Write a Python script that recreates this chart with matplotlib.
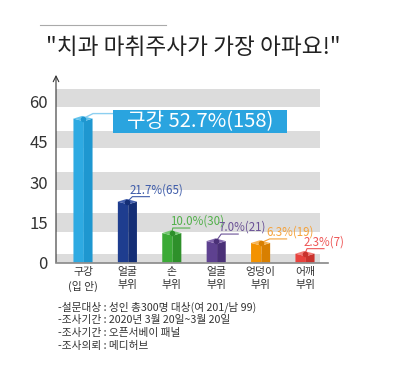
import matplotlib
matplotlib.use("Agg")
import matplotlib.pyplot as plt
from matplotlib.patches import Polygon, Rectangle
import numpy as np

plt.rcParams['font.family'] = ['Noto Sans CJK KR', 'DejaVu Sans']

# ---- data ----
categories = ["구강\n(입 안)", "얼굴\n부위", "손\n부위", "얼굴\n부위", "엉덩이\n부위", "어깨\n부위"]
percents = [52.7, 21.7, 10.0, 7.0, 6.3, 2.3]
counts = [158, 65, 30, 21, 19, 7]
yticks = [0, 15, 30, 45, 60]
title = '"치과 마취주사가 가장 아파요!"'
notes = ["-설문대상 : 성인 총300명 대상(여 201/남 99)",
         "-조사기간 : 2020년 3월 20일~3월 20일",
         "-조사기간 : 오픈서베이 패널",
         "-조사의뢰 : 메디허브"]

# ---- styles ----
face_light = ["#2EAAE2", "#1E3D8F", "#3BAA36", "#5E4190", "#F39200", "#E8423D"]
face_dark = ["#1E97D0", "#142E75", "#2E902A", "#4A3077", "#D87F00", "#C9312C"]
face_top = ["#63C3EC", "#4561AE", "#72C66F", "#8468AE", "#F8B452", "#F27B76"]
label_col = ["#2AA4DF", "#3D5BA9", "#52B04A", "#6B5296", "#F5A23A", "#EE5656"]
label_dx_px = [0, 1, -3, 1, 5, -2]
label_dy_px = [0, 0, 0, 2, -1, 0]
bands = [(58.1, 64.6), (42.6, 49.2), (27.0, 33.6), (11.4, 18.3), (0, 3.0)]

W, H = 400, 371
fig = plt.figure(figsize=(W / 100, H / 100), dpi=100)
ax_l, ax_r, ax_b, ax_t = 56, 328, 262.5, 88.3
ax = fig.add_axes([ax_l / W, 1 - ax_b / H, (ax_r - ax_l) / W, (ax_b - ax_t) / H])
xmin, xmax = -0.608, 5.518
ymin, ymax = 0, 65
ax.set_xlim(xmin, xmax)
ax.set_ylim(ymin, ymax)
dxpp = (xmax - xmin) / (ax_r - ax_l)   # data per pixel x
dypp = (ymax - ymin) / (ax_b - ax_t)   # data per pixel y

for s in ax.spines.values():
    s.set_visible(False)

# bands
band_right = xmin + (320 - ax_l) * dxpp
for lo, hi in bands:
    ax.add_patch(Rectangle((xmin, lo), band_right - xmin, hi - lo, color="#DCDCDC", lw=0, zorder=0))

# axes lines
ax.plot([xmin, xmax], [0, 0], color="#888888", lw=1.2, zorder=5, clip_on=False)
ax.annotate('', xy=(xmin, 70), xytext=(xmin, 0),
            arrowprops=dict(arrowstyle='->', color='#333333', lw=0.8, shrinkA=0, shrinkB=0),
            annotation_clip=False)

# bars
bw = 0.43
dh = 1.0
x = np.arange(len(percents))
for i, (xi, v) in enumerate(zip(x, percents)):
    x0, x1, c = xi - bw / 2, xi + bw / 2, xi + 0.02
    ax.add_patch(Polygon([(x0, 0), (c, 0), (c, v), (x0, v + dh)], closed=True,
                         fc=face_light[i], ec='none', zorder=3))
    ax.add_patch(Polygon([(c, 0), (x1, 0), (x1, v + dh), (c, v)], closed=True,
                         fc=face_dark[i], ec='none', zorder=3))
    ax.add_patch(Polygon([(x0, v + dh), (c, v), (x1, v + dh), (x0 + x1 - c, v + 2 * dh)], closed=True,
                         fc=face_top[i], ec='none', zorder=3))
    ax.plot([xi], [v + dh], 'o', ms=3, color=face_dark[i], zorder=6)

# label for first bar (box)
v0 = percents[0] + dh
bx0 = x[0] + 30 * dxpp
bw_box = 174 * dxpp
bh_box = 23.3 * dypp
by0 = v0 - 3 * dypp - bh_box / 2
ax.plot([x[0], x[0] + 10 * dxpp, bx0], [v0, v0 + 5 * dypp, v0 + 5 * dypp],
        color="#8CCFF0", lw=1.0, zorder=4, clip_on=False)
ax.add_patch(Rectangle((bx0, by0), bw_box, bh_box, fc=label_col[0], ec='none', zorder=4))
ax.text(bx0 + bw_box / 2, by0 + bh_box / 2, f"구강 {percents[0]}%({counts[0]})",
        color="white", fontsize=14.5, ha='center', va='center', zorder=5)

# other labels
for i in range(1, len(percents)):
    v = percents[i] + dh
    xi = x[i]
    ddx = label_dx_px[i] * dxpp
    ddy = label_dy_px[i] * dypp
    cx, cy = xi + (4 + label_dx_px[i]) * dxpp, v + 5 * dypp + ddy
    ex = xi + (21 + label_dx_px[i]) * dxpp
    ax.plot([xi, cx, ex], [v, cy, cy], color=label_col[i], lw=0.8, zorder=4, clip_on=False)
    ax.text(xi + 1 * dxpp + ddx, v + 5.5 * dypp + ddy, f"{percents[i]:.1f}%({counts[i]})",
            color=label_col[i], fontsize=8.3, ha='left', va='bottom', zorder=5)

# ticks
ax.set_yticks(yticks)
ax.set_yticklabels([str(t) for t in yticks], fontsize=12, color="#333333")
ax.tick_params(axis='y', length=0, pad=6)
ax.set_xticks(x)
ax.set_xticklabels(categories, fontsize=7.8, color="#333333", linespacing=1.45)
ax.tick_params(axis='x', length=0, pad=3)

# title and decorations
fig.text(193 / W, 1 - 48 / H, title, fontsize=16.3, color="#222222", ha='center', va='center')
fig.add_artist(plt.Line2D([40 / W, 166 / W], [1 - 25 / H, 1 - 25 / H], color="#AAAAAA", lw=0.8))

for j, (t, yp) in enumerate(zip(notes, [307, 320, 333, 346])):
    fig.text(58 / W, 1 - yp / H, t, fontsize=7.7, color="#333333", ha='left', va='center')

fig.savefig("out.png", dpi=100)
